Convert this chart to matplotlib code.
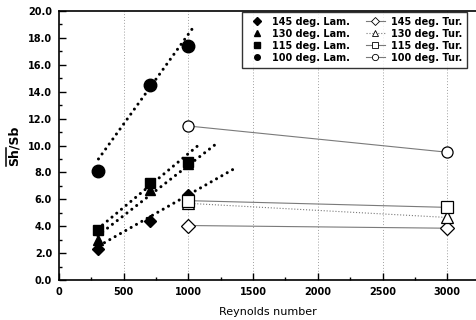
import matplotlib
matplotlib.use("Agg")
import matplotlib.pyplot as plt
from matplotlib.lines import Line2D
from matplotlib.ticker import MultipleLocator, FormatStrFormatter

plt.rcParams['font.family'] = ['DejaVu Sans']

re_lam = [300, 700, 1000]
re_tur = [1000, 3000]

lam_145 = [2.3, 4.4, 6.3]
lam_130 = [3.0, 6.7, 8.6]
lam_115 = [3.7, 7.2, 8.8]
lam_100 = [8.1, 14.5, 17.4]

tur_145 = [4.05, 3.85]
tur_130 = [5.7, 4.65]
tur_115 = [5.9, 5.4]
tur_100 = [11.45, 9.5]

# dotted trend lines for the laminar data (end points)
fit_x_145 = [310, 1346]
fit_y_145 = [2.55, 8.23]
fit_x_130 = [300, 1205]
fit_y_130 = [3.3, 10.05]
fit_x_115 = [300, 1100]
fit_y_115 = [3.8, 10.2]
fit_x_100 = [305, 1054]
fit_y_100 = [9.0, 19.0]

labels = ['145', '130', '115', '100']
markers = ['D', '^', 's', 'o']
lam_data = [lam_145, lam_130, lam_115, lam_100]
tur_data = [tur_145, tur_130, tur_115, tur_100]
fit_xs = [fit_x_145, fit_x_130, fit_x_115, fit_x_100]
fit_ys = [fit_y_145, fit_y_130, fit_y_115, fit_y_100]
tur_styles = ['-', ':', '-', '-']
lam_sizes = [6.5, 7, 7, 9]
tur_sizes = [7.5, 8, 8, 8]

W, H = 477, 320
fig = plt.figure(figsize=(W / 100, H / 100), dpi=100)
ax = fig.add_axes([59 / W, 1 - 280 / H, 418 / W, 269 / H])

for xv in [500, 1000, 1500, 2000, 2500, 3000]:
    ax.axvline(xv, color='#a0a0a0', lw=0.7, ls=(0, (1, 2)), zorder=0)

lam_handles = []
tur_handles = []
for lab, mk, ld, td, fx, fy, ts, lsz, tsz in zip(labels, markers, lam_data, tur_data,
                                                fit_xs, fit_ys, tur_styles, lam_sizes, tur_sizes):
    ax.plot(fx, fy, color='black', lw=2.2, ls=(0, (0.01, 2.0)),
            dash_capstyle='round', zorder=2)
    h1, = ax.plot(re_lam, ld, ls='none', marker=mk, color='black', ms=lsz, zorder=3,
                  label=f'{lab} deg. Lam.')
    h2, = ax.plot(re_tur, td, ls=ts, color='#7a7a7a', lw=0.8, marker=mk, mfc='white',
                  mec='black', mew=0.9, ms=tsz, zorder=3, label=f'{lab} deg. Tur.')
    lam_handles.append(h1)
    tur_handles.append(h2)

ax.set_xlim(0, 3230)
ax.set_ylim(0, 20)
ax.xaxis.set_major_locator(MultipleLocator(500))
ax.xaxis.set_minor_locator(MultipleLocator(250))
ax.yaxis.set_major_locator(MultipleLocator(2))
ax.yaxis.set_minor_locator(MultipleLocator(1))
ax.yaxis.set_major_formatter(FormatStrFormatter('%.1f'))
ax.tick_params(which='both', direction='in', labelsize=7, width=1.0, right=False, top=False)
ax.tick_params(which='major', length=5, pad=5)
ax.tick_params(which='minor', length=2.5)
for lbl in ax.get_xticklabels() + ax.get_yticklabels():
    lbl.set_fontweight('bold')
for s in ax.spines.values():
    s.set_linewidth(1.2)
ax.spines['right'].set_visible(False)

ax.set_xlabel('Reynolds number', fontsize=8, labelpad=7)
ylab = fig.text(14 / W, 1 - 146 / H, 'Sh/Sb', fontsize=9, fontweight='bold',
                rotation=90, ha='center', va='center')

leg = ax.legend(handles=lam_handles + tur_handles, ncol=2, loc='upper left',
                bbox_to_anchor=((242 - 59) / 418, 1 - 1 / 269), fontsize=7, frameon=True,
                fancybox=False, edgecolor='black', handlelength=2.0, handletextpad=0.6,
                columnspacing=1.6, borderpad=0.5, labelspacing=0.2, borderaxespad=0.0)
leg.get_frame().set_linewidth(1.0)
for t in leg.get_texts():
    t.set_fontweight('bold')
for h in leg.legend_handles[:4]:
    h.set_markersize(4)
for h in leg.legend_handles[4:]:
    h.set_markersize(4.5)
    h.set_markeredgewidth(0.6)

# overline over "Sh" of the rotated y label
fig.canvas.draw()
renderer = fig.canvas.get_renderer()
bb = ylab.get_window_extent(renderer)
tmp = fig.text(0, 0, 'Sh', fontsize=9, fontweight='bold')
w_sh = tmp.get_window_extent(renderer).width
tmp.remove()
x_ol = bb.x0 - 1.5
fig.add_artist(Line2D([x_ol / W, x_ol / W], [bb.y0 / H, (bb.y0 + w_sh) / H],
                      transform=fig.transFigure, color='black', lw=1.1))

fig.savefig('out.png', dpi=100)
